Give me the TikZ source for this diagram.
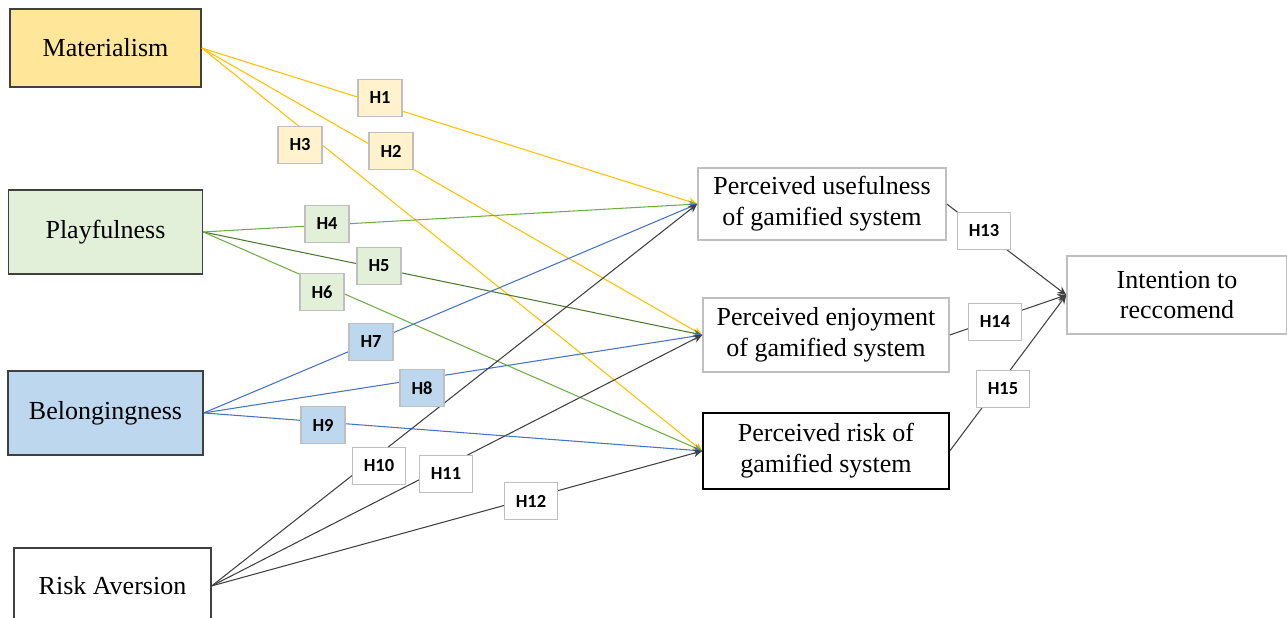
\documentclass[tikz,border=0pt]{standalone}
\usepackage{fontspec}
\setmainfont{Liberation Serif}
\newfontfamily\hypfont{Carlito}
\usetikzlibrary{shapes,arrows.meta,positioning}
\definecolor{matfill}{HTML}{FFE699}
\definecolor{playfill}{HTML}{E2F0D9}
\definecolor{belfill}{HTML}{BDD7EE}
\definecolor{matlab}{HTML}{FFF2CC}
\definecolor{orangeline}{HTML}{FFC000}
\definecolor{greenline}{HTML}{70AD47}
\definecolor{blueline}{HTML}{4472C4}
\definecolor{darkline}{HTML}{404040}
\definecolor{grayedge}{HTML}{BFBFBF}
\tikzset{construct/.style={rectangle,draw=darkline,line width=0.9pt,align=center,inner sep=0pt,font=\fontsize{14.8}{17.5}\selectfont}}
\tikzset{outcome/.style={construct,draw=grayedge}}
\tikzset{hyp/.style={rectangle,draw=grayedge,line width=0.8pt,fill=white,inner xsep=0.23cm,inner ysep=0pt,minimum height=0.74cm,font=\hypfont\bfseries\fontsize{10.5}{12}\selectfont}}
\tikzset{link/.style={draw,line width=0.6pt,->}}

\begin{document}
\begin{tikzpicture}[x=0.02cm,y=-0.02cm,>={Stealth[length=5pt,width=4.5pt]}]
    \useasboundingbox (0,0) rectangle (1287,618);

    % antecedents
    \node[construct,fill=matfill,minimum width=3.82cm,minimum height=1.56cm] (mat) at (105.5,48) {Materialism};
    \node[construct,fill=playfill,minimum width=3.88cm,minimum height=1.68cm,below of=mat,node distance=3.68cm] (play) {Playfulness};
    \node[construct,fill=belfill,minimum width=3.9cm,minimum height=1.68cm,below of=play,node distance=3.62cm] (bel) {Belongingness};
    \node[construct,fill=white,minimum width=3.94cm,minimum height=1.52cm,below of=bel,node distance=3.46cm,xshift=0.14cm] (risk) {Risk Aversion};

    % mediators and outcome
    \node[outcome,minimum width=4.96cm,minimum height=1.44cm] (pu) at (822,204) {Perceived usefulness\\of gamified system};
    \node[outcome,minimum width=4.92cm,minimum height=1.48cm,below of=pu,node distance=2.62cm,xshift=0.08cm] (pe) {Perceived enjoyment\\of gamified system};
    \node[construct,draw=black,minimum width=4.92cm,minimum height=1.52cm,below of=pe,node distance=2.32cm] (pr) {Perceived risk of\\gamified system};
    \node[outcome,minimum width=4.4cm,minimum height=1.56cm] (ir) at (1177,295) {Intention to\\reccomend};

        \path[link,orangeline] (mat.east) -- (pu.west);
        \path[link,orangeline] (mat.east) -- (pe.west);
        \path[link,orangeline] (mat.east) -- (pr.west);
        \path[link,greenline] (play.east) -- (pu.west);
        \path[link,greenline!70!black] (play.east) -- (pe.west);
        \path[link,greenline] (play.east) -- (pr.west);
        \path[link,blueline] (bel.east) -- (pu.west);
        \path[link,blueline] (bel.east) -- (pe.west);
        \path[link,blueline] (bel.east) -- (pr.west);
        \path[link,darkline] (risk.east) -- (pu.west);
        \path[link,darkline] (risk.east) -- (pe.west);
        \path[link,darkline] (risk.east) -- (pr.west);
        \path[link,darkline] (pu.east) -- (ir.west);
        \path[link,darkline] (pe.east) -- (ir.west);
        \path[link,darkline] (pr.east) -- (ir.west);

     \node[hyp,fill=matlab] (h1) at (380,98) {H1};
     \node[hyp,fill=matlab] (h2) at (391,151) {H2};
     \node[hyp,fill=matlab] (h3) at (300,145) {H3};
     \node[hyp,fill=playfill] (h4) at (327,224) {H4};
     \node[hyp,fill=playfill] (h5) at (379,266) {H5};
     \node[hyp,fill=playfill] (h6) at (322,292) {H6};
     \node[hyp,fill=belfill] (h7) at (371,342) {H7};
     \node[hyp,fill=belfill] (h8) at (422,388) {H8};
     \node[hyp,fill=belfill] (h9) at (323,425) {H9};
     \node[hyp] (h10) at (379,466) {H10};
     \node[hyp] (h11) at (446,474) {H11};
     \node[hyp] (h12) at (531,501) {H12};
     \node[hyp] (h13) at (984,231) {H13};
     \node[hyp] (h14) at (995,322) {H14};
     \node[hyp] (h15) at (1003,389) {H15};
\end{tikzpicture}
\end{document}
